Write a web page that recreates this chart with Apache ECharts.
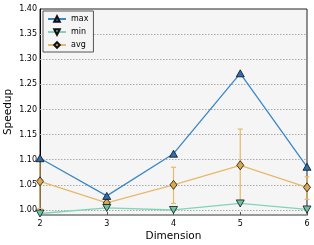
<!DOCTYPE html>
<html><head><meta charset="utf-8">
<script src="https://cdn.jsdelivr.net/npm/echarts@6/dist/echarts.min.js"></script>
<style>html,body{margin:0;padding:0;background:#fff}#c{width:314px;height:245px}</style>
</head><body><div id="c"></div>
<script>
const dims = [2, 3, 4, 5, 6];
const maxVals = [1.103, 1.028, 1.112, 1.272, 1.086];
const minVals = [0.993, 1.004, 1.000, 1.013, 1.001];
const avgVals = [1.057, 1.014, 1.050, 1.089, 1.045];
const avgLow  = [1.003, 1.006, 1.013, 1.015, 1.021];
const avgHigh = [1.103, 1.024, 1.085, 1.161, 1.066];
const yTicks = [1.00, 1.05, 1.10, 1.15, 1.20, 1.25, 1.30, 1.35, 1.40];

const font = 'DejaVu Sans';
const chart = echarts.init(document.getElementById('c'), null, {renderer: 'canvas'});
const pairs = a => dims.map((d, i) => [d, a[i]]);

chart.setOption({
  animation: false,
  grid: {left: 40, right: 7, top: 9, bottom: 30, containLabel: false, outerBoundsMode: 'none',
    show: true, backgroundColor: '#f5f5f5', borderColor: '#222', borderWidth: 1},
  legend: {
    left: 43, top: 11, orient: 'vertical', itemWidth: 18, itemHeight: 7, itemGap: 5,
    padding: [4, 5, 3, 4], borderColor: '#555', borderWidth: 1, backgroundColor: '#f5f5f5',
    textStyle: {fontFamily: font, fontSize: 8, color: '#000'},
    data: ['max', 'min', 'avg']
  },
  xAxis: {
    type: 'value', min: 2, max: 6, interval: 1,
    name: 'Dimension', nameLocation: 'middle', nameGap: 16, nameMoveOverlap: false,
    nameTextStyle: {fontFamily: font, fontSize: 10.5, color: '#000'},
    axisLine: {show: true, lineStyle: {color: '#999', width: 2}},
    axisTick: {show: true, inside: true, length: 3, lineStyle: {color: '#555'}},
    axisLabel: {fontFamily: font, fontSize: 8, color: '#000', margin: 5},
    splitLine: {show: false}
  },
  yAxis: {
    type: 'value', min: 0.99, max: 1.40, interval: 0.01,
    name: 'Speedup', nameLocation: 'middle', nameGap: 26, nameMoveOverlap: false,
    nameTextStyle: {fontFamily: font, fontSize: 10.5, color: '#000'},
    axisLine: {show: true, lineStyle: {color: '#000', width: 1}},
    axisTick: {show: false},
    axisLabel: {fontFamily: font, fontSize: 8, color: '#000', margin: 3,
      formatter: v => {
        const r = Math.round(v * 100);
        return (r % 5 === 0) ? (r / 100).toFixed(2) : '';
      }},
    splitLine: {show: false}
  },
  series: [
    {
      name: 'avg-err', type: 'custom', z: 2,
      data: dims.map((d, i) => [d, avgLow[i], avgHigh[i]]),
      renderItem: (params, api) => {
        const lo = api.coord([api.value(0), api.value(1)]);
        const hi = api.coord([api.value(0), api.value(2)]);
        const c = '#e8b968';
        const st = {stroke: c, lineWidth: 1.2};
        return {type: 'group', children: [
          {type: 'line', shape: {x1: lo[0], y1: lo[1], x2: hi[0], y2: hi[1]}, style: st},
          {type: 'line', shape: {x1: lo[0] - 2.5, y1: lo[1], x2: lo[0] + 2.5, y2: lo[1]}, style: st},
          {type: 'line', shape: {x1: hi[0] - 2.5, y1: hi[1], x2: hi[0] + 2.5, y2: hi[1]}, style: st}
        ]};
      },
      markLine: {
        silent: true, symbol: 'none', label: {show: false}, z: 1,
        lineStyle: {color: '#aaa', type: [1.5, 1.5], width: 1},
        data: yTicks.slice(0, -1).map(v => ({yAxis: v}))
      }
    },
    {
      name: 'max', type: 'line', data: pairs(maxVals), z: 5,
      symbol: 'triangle', symbolSize: [8, 7],
      lineStyle: {color: '#3a87c8', width: 1.3},
      itemStyle: {color: '#2b6fb0', borderColor: '#111', borderWidth: 0.8}
    },
    {
      name: 'min', type: 'line', data: pairs(minVals), z: 4,
      symbol: 'triangle', symbolRotate: 180, symbolSize: [8, 7],
      lineStyle: {color: '#7fd4bb', width: 1.3},
      itemStyle: {color: '#6cc4a8', borderColor: '#111', borderWidth: 0.8}
    },
    {
      name: 'avg', type: 'line', data: pairs(avgVals), z: 3,
      symbol: 'diamond', symbolSize: [7, 9],
      lineStyle: {color: '#e8b968', width: 1.3},
      itemStyle: {color: '#dba84e', borderColor: '#111', borderWidth: 0.8}
    }
  ]
});
</script></body></html>
